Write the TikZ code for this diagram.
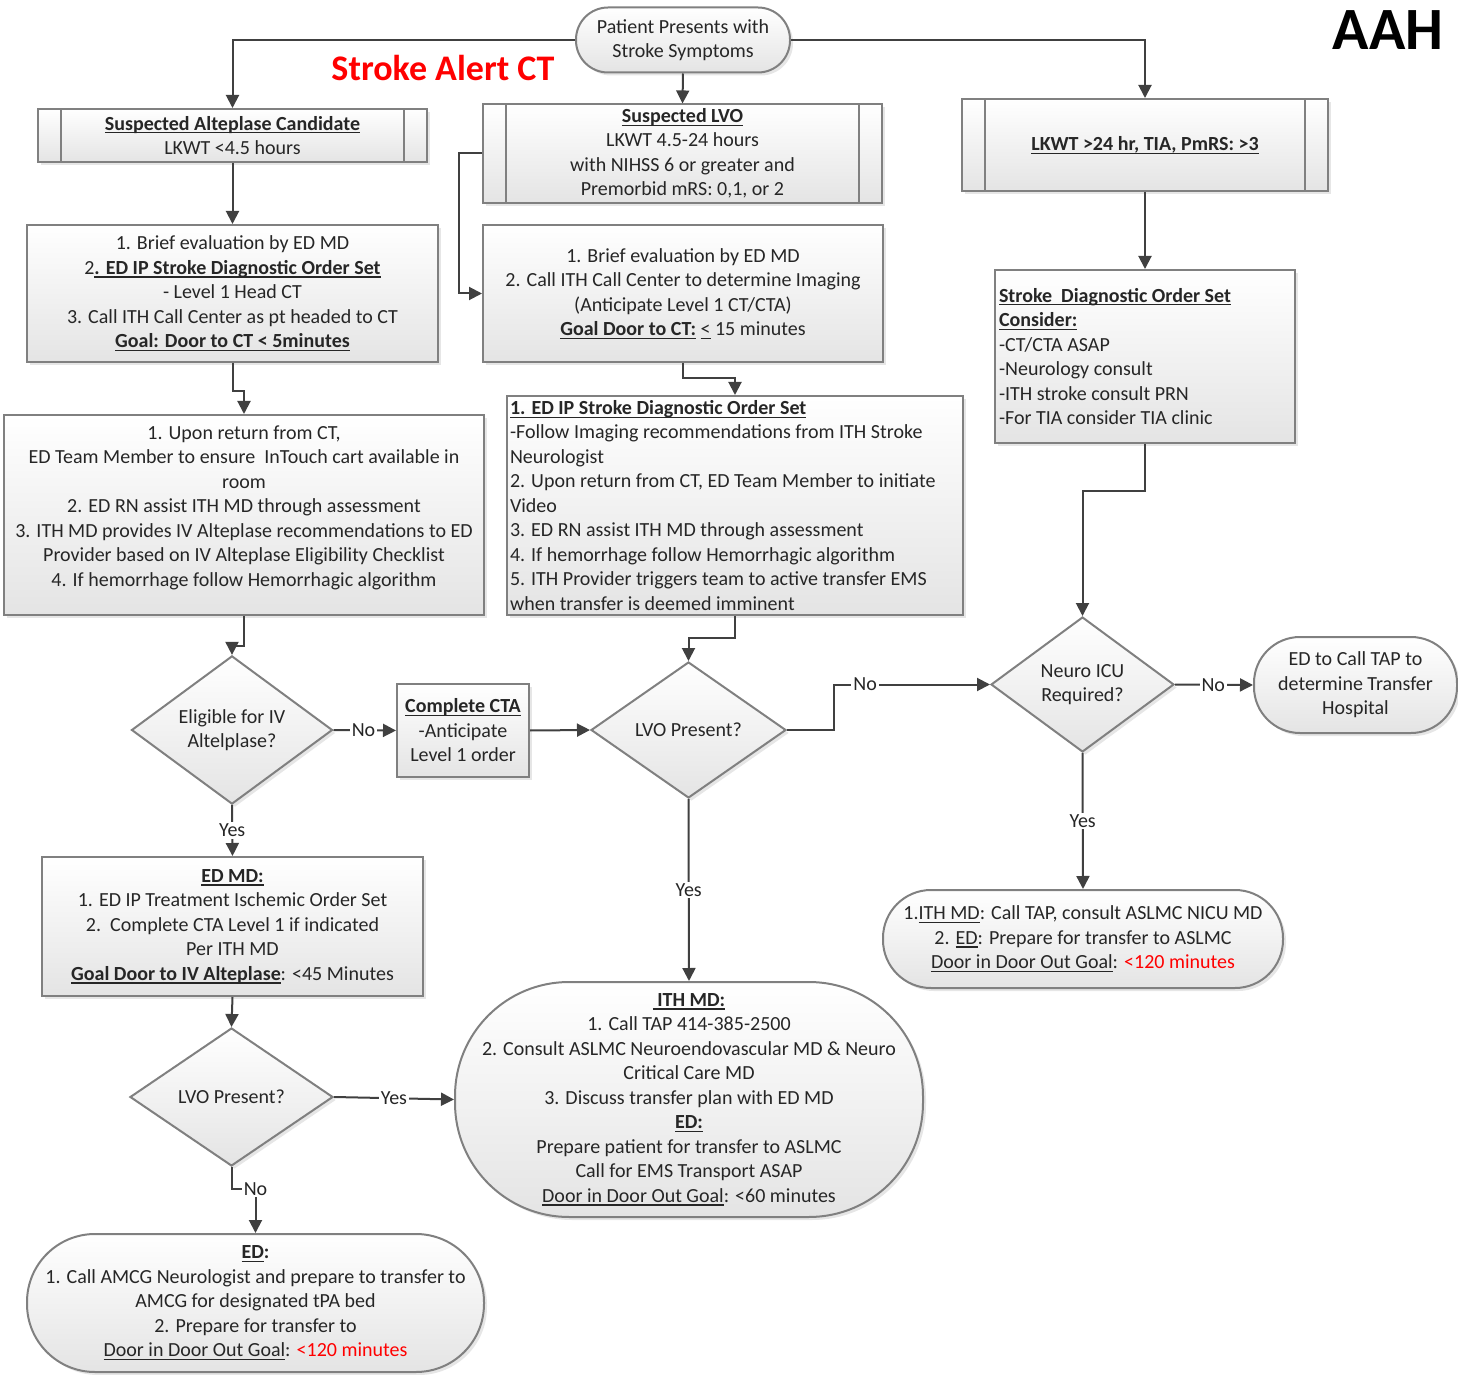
\documentclass[tikz,border=0pt]{standalone}
\usepackage{fontspec}
\setmainfont{Carlito}
\usepackage{tikz}
\usetikzlibrary{shapes.geometric, arrows.meta, shadows}
\definecolor{linegray}{HTML}{404040}
\definecolor{boxgray}{HTML}{808080}
\definecolor{textgray}{HTML}{262626}
\definecolor{shadegray}{HTML}{E4E4E4}
\definecolor{alertred}{HTML}{FF0000}
\newcommand{\uln}[1]{\leavevmode\setbox0=\hbox{#1}\rlap{\rule[-1.6pt]{\wd0}{0.55pt}}\box0\relax}
\tikzstyle{box} = [rectangle, draw=boxgray, line width=1pt, top color=white, bottom color=shadegray, text=textgray, align=center, inner sep=2pt, drop shadow={shadow xshift=1.5pt, shadow yshift=-1.5pt, opacity=0.2}]
\tikzstyle{predef} = [box, path picture={\draw[draw=boxgray, line width=1pt] ([xshift=11.5pt]path picture bounding box.north west) -- ([xshift=11.5pt]path picture bounding box.south west) ([xshift=-11.5pt]path picture bounding box.north east) -- ([xshift=-11.5pt]path picture bounding box.south east);}]
\tikzstyle{decision} = [box, diamond, inner sep=0pt]
\tikzstyle{flow} = [line width=1pt, draw=linegray, -{Triangle[length=6.5pt,width=6.5pt]}]
\tikzstyle{answer} = [fill=white, inner sep=1pt, text=textgray]

\begin{document}
\begin{tikzpicture}[x=0.5pt, y=-0.5pt, font=\fontsize{10}{12.25}\selectfont]
		\useasboundingbox (0,0) rectangle (1458,1375);

		\node[box, rounded corners=16pt, minimum width=107pt, minimum height=32.5pt] (start) at (683,40) {Patient Presents with\\Stroke Symptoms};
		\node[text=alertred, font=\fontsize{18}{21}\selectfont\bfseries] (alert) at (443,68) {Stroke Alert CT};
		\node[font=\fontsize{30}{34}\selectfont\bfseries] (site) at (1388,30) {AAH};

		\node[predef, minimum width=194.5pt, minimum height=26.5pt] (cand) at (232.5,135.5) {\uln{\textbf{Suspected Alteplase Candidate}}\\LKWT <4.5 hours};
		\node[predef, minimum width=199.5pt, minimum height=48.5pt] (lvo) at (682.5,153.5) {\uln{\textbf{Suspected LVO}}\\LKWT 4.5-24 hours\\with NIHSS 6 or greater and\\Premorbid mRS: 0,1, or 2};
		\node[predef, minimum width=183pt, minimum height=46pt] (late) at (1145,145) {\uln{\textbf{LKWT >24 hr, TIA, PmRS: >3}}};

		\node[box, minimum width=205.5pt, minimum height=68.5pt] (candeval) at (232.5,293.5) {1. Brief evaluation by ED MD\\2\uln{\textbf{. ED IP Stroke Diagnostic Order Set}}\\- Level 1 Head CT\\3. Call ITH Call Center as pt headed to CT\\\uln{\textbf{Goal: Door to CT < 5minutes}}};
		\node[box, minimum width=200pt, minimum height=68.5pt] (lvoeval) at (683,293.5) {1. Brief evaluation by ED MD\\2. Call ITH Call Center to determine Imaging\\(Anticipate Level 1 CT/CTA)\\\uln{\textbf{Goal Door to CT:}} \uln{<} 15 minutes};
		\node[box, align=flush left, text width=146pt, inner xsep=2pt, minimum height=86.5pt] (lateorder) at (1145,356.5) {\uln{\textbf{Stroke\ \ Diagnostic Order Set}}\\\uln{\textbf{Consider:}}\\-CT/CTA ASAP\\-Neurology consult\\-ITH stroke consult PRN\\-For TIA consider TIA clinic};

		\node[box, minimum width=240pt, minimum height=100pt] (candreturn) at (244,515) {1. Upon return from CT,\\ED Team Member to ensure\ \ InTouch cart available in\\room\\2. ED RN assist ITH MD through assessment\\3. ITH MD provides IV Alteplase recommendations to ED\\Provider based on IV Alteplase Eligibility Checklist\\4. If hemorrhage follow Hemorrhagic algorithm\\[-3pt]\mbox{}};
		\node[box, align=flush left, text width=225pt, inner xsep=1.5pt, inner ysep=0.5pt, minimum height=109.5pt] (lvoorder) at (735,505.5) {\uln{\textbf{1. ED IP Stroke Diagnostic Order Set}}\\-Follow Imaging recommendations from ITH Stroke\\Neurologist\\2. Upon return from CT, ED Team Member to initiate\\Video\\3. ED RN assist ITH MD through assessment\\4. If hemorrhage follow Hemorrhagic algorithm\\5. ITH Provider triggers team to active transfer EMS\\when transfer is deemed imminent};

		\node[decision, minimum width=100.5pt, minimum height=68pt] (eligible) at (232,730) {Eligible for IV\\Altelplase?};
		\node[box, minimum width=66pt, minimum height=46.5pt] (cta) at (463,730.5) {\uln{\textbf{Complete CTA}}\\-Anticipate\\Level 1 order};
		\node[decision, minimum width=97.5pt, minimum height=68pt] (lvoq) at (688.5,730) {LVO Present?};
		\node[decision, minimum width=91.5pt, minimum height=67.5pt] (icu) at (1082.5,684.5) {Neuro ICU\\Required?};
		\node[box, rounded corners=23pt, minimum width=101.5pt, minimum height=48pt] (tap) at (1355.5,685) {ED to Call TAP to\\determine Transfer\\Hospital};

		\node[box, minimum width=190.5pt, minimum height=69.5pt] (edmd) at (232.5,926.5) {\uln{\textbf{ED MD:}}\\1. ED IP Treatment Ischemic Order Set\\2.\ \ Complete CTA Level 1 if indicated\\Per ITH MD\\\uln{\textbf{Goal Door to IV Alteplase}}: <45 Minutes};
		\node[decision, minimum width=101.5pt, minimum height=69pt] (lvoq2) at (231.5,1097) {LVO Present?};
		\node[box, rounded corners=57pt, minimum width=234pt, minimum height=117.5pt] (ithmd) at (689,1099.5) {\uln{\textbf{\ ITH MD:}}\\1. Call TAP 414-385-2500\\2. Consult ASLMC Neuroendovascular MD \& Neuro\\Critical Care MD\\3. Discuss transfer plan with ED MD\\\uln{\textbf{ED:}}\\Prepare patient for transfer to ASLMC\\Call for EMS Transport ASAP\\\uln{Door in Door Out Goal}: <60 minutes};
		\node[box, rounded corners=24pt, minimum width=200pt, minimum height=49pt] (nicu) at (1083,939) {1.\uln{ITH MD}: Call TAP, consult ASLMC NICU MD\\2. \uln{ED}: Prepare for transfer to ASLMC\\\uln{Door in Door Out Goal}: \textcolor{alertred}{<120 minutes}};
		\node[box, rounded corners=34pt, minimum width=228.5pt, minimum height=69pt] (amcg) at (255.5,1303) {\uln{\textbf{ED}}\textbf{:}\\1. Call AMCG Neurologist and prepare to transfer to\\AMCG for designated tPA bed\\2. Prepare for transfer to\\\uln{Door in Door Out Goal}: \textcolor{alertred}{<120 minutes}};

		\draw[flow] (start.west) -| (cand.north);
		\draw[flow] (start.east) -| (late.north);
		\draw[flow] (start.south) -- (lvo.north);
		\draw[flow] (cand.south) -- (candeval.north);
		\draw[flow] (lvo.west) -- ++(-23,0) |- (lvoeval.west);
		\draw[flow] (late.south) -- (lateorder.north);

		\draw[flow] (candeval.south) -- ++(0,28) -| (candreturn.north);
		\draw[flow] (lvoeval.south) -- ++(0,15) -| (lvoorder.north);
		\draw[flow] (lateorder.south) -- ++(0,47) -| (icu.north);
		\draw[flow] (candreturn.south) -- ++(0,30) -| (eligible.north);
		\draw[flow] (lvoorder.south) -- ++(0,22) -| (lvoq.north);

		\draw[flow] (eligible.east) -- node[answer, pos=0.48] {No} (cta.west);
		\draw[flow] (cta.east) -- (lvoq.west);
		\draw[flow] (lvoq.east) -- ++(47,0) |- node[answer, pos=0.6] {No} (icu.west);
		\draw[flow] (icu.east) -- node[answer, pos=0.49] {No} (tap.west);
		\draw[flow] (icu.south) -- node[answer] {Yes} (nicu.north);
		\draw[flow] (lvoq.south) -- node[answer] {Yes} (ithmd.north);
		\draw[flow] (eligible.south) -- node[answer] {Yes} (edmd.north);
		\draw[flow] (edmd.south) -- (lvoq2.north);
		\draw[flow] (lvoq2.east) -- node[answer] {Yes} (ithmd.west);
		\draw[flow] (lvoq2.south) -- ++(0,22) -| node[answer, pos=0.5] {No} (amcg.north);
	\end{tikzpicture}
\end{document}
